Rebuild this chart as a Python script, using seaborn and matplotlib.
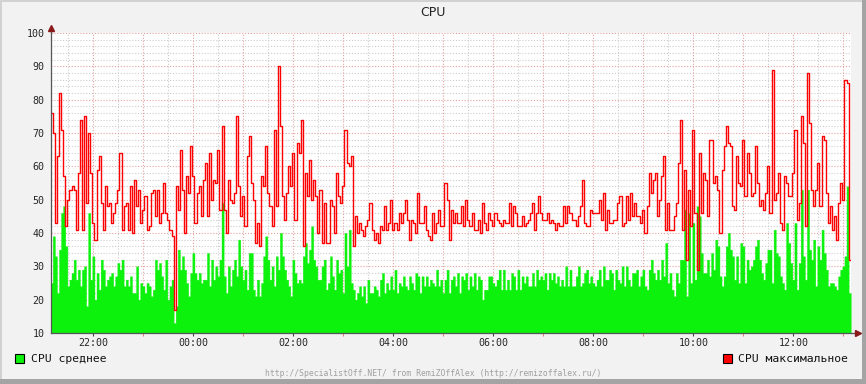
import numpy as np
import pandas as pd
import matplotlib
matplotlib.use("Agg")
import matplotlib.pyplot as plt
import seaborn as sns
from matplotlib.patches import Rectangle

# CPU maximum, % (one sample every 2.5 min)
cpu_max = [
    # 21:09 .. 23:50
    76, 70, 43, 63, 82, 71, 57, 42, 50, 53, 54, 53, 41, 58, 74, 41, 75, 49, 70, 58,
    43, 38, 59, 63, 49, 41, 54, 48, 49, 43, 46, 49, 53, 64, 41, 48, 49, 41, 54, 40,
    56, 48, 53, 43, 47, 51, 41, 42, 52, 53, 45, 53, 43, 46, 55, 46, 44, 41, 39, 17,
    54, 47, 65, 53,
    # 23:50 - 02:30
    40, 57, 52, 66, 57, 43, 52, 54, 45, 56, 61, 45, 64, 50, 56, 55, 65, 47, 72, 47,
    40, 56, 50, 49, 52, 75, 54, 45, 51, 42, 63, 69, 55, 50, 37, 43, 36, 57, 54, 66,
    52, 48, 42, 71, 48, 90, 72, 51, 44, 52, 60, 54, 64, 44, 67, 64, 74, 36, 58, 51,
    62, 50, 56, 51, 40,
    # 02:30 - 05:10
    53, 37, 49, 37, 37, 50, 48, 40, 58, 51, 49, 54, 71, 61, 60, 63, 36, 45, 40, 43,
    41, 39, 42, 44, 49, 41, 38, 40, 37, 42, 41, 48, 41, 43, 50, 41, 43, 41, 46, 43,
    46, 50, 44, 38, 44, 43, 40, 52, 43, 43, 48, 41, 39, 38, 46, 40, 43, 47, 42, 42,
    55, 50, 38, 47, 43,
    # 05:10 - 07:50
    46, 43, 43, 48, 42, 50, 44, 42, 46, 41, 41, 44, 40, 49, 43, 41, 46, 44, 42, 46,
    44, 43, 42, 44, 43, 43, 49, 42, 48, 46, 42, 42, 45, 42, 43, 44, 46, 49, 41, 46,
    51, 46, 44, 44, 46, 43, 44, 43, 41, 43, 42, 42, 48, 43, 48, 46, 44, 44, 42, 45,
    48, 56, 43, 42, 42,
    # 07:50 - 10:30
    47, 46, 46, 46, 50, 44, 52, 41, 47, 43, 43, 44, 44, 49, 51, 42, 43, 51, 44, 52,
    45, 49, 45, 45, 43, 47, 40, 48, 58, 52, 56, 58, 45, 50, 57, 63, 41, 49, 41, 41,
    45, 49, 61, 74, 41, 59, 32, 53, 42, 71, 46, 29, 64, 46, 58, 56, 45, 68, 68, 55,
    57, 53, 40, 59, 66,
    # 10:30 - 13:09
    72, 67, 66, 48, 47, 63, 55, 54, 68, 51, 64, 58, 51, 52, 66, 55, 48, 50, 47, 52,
    60, 46, 89, 50, 52, 58, 43, 41, 57, 55, 51, 51, 58, 71, 44, 49, 75, 67, 42, 88,
    73, 53, 48, 53, 61, 48, 69, 68, 52, 43, 48, 41, 45, 38, 49, 55,
    50, 86, 85, 32,
]

# CPU average, %
cpu_avg = [
    25, 39, 33, 22, 35, 46, 48, 36, 24, 26, 28, 32, 26, 29, 24, 29, 30, 18, 46, 26,
    33, 20, 28, 23, 32, 29, 24, 26, 27, 28, 24, 27, 31, 29, 32, 24, 26, 24, 27, 22,
    22, 30, 20, 25, 24, 22, 25, 24, 21, 23, 32, 29, 31, 27, 23, 32, 20, 24, 26, 13,
    18, 35, 29, 33,

    29, 25, 21, 28, 34, 28, 26, 28, 25, 26, 26, 34, 24, 32, 26, 30, 27, 32, 49, 27,
    22, 30, 24, 29, 32, 27, 38, 30, 26, 29, 23, 34, 34, 23, 21, 26, 21, 25, 33, 39,
    32, 26, 30, 24, 33, 29, 40, 33, 29, 26, 24, 21, 32, 28, 25, 26, 25, 33, 37, 31,
    35, 42, 32, 30, 26,

    26, 30, 32, 23, 25, 33, 27, 23, 32, 28, 29, 22, 40, 30, 41, 25, 23, 20, 22, 24,
    21, 24, 19, 26, 22, 22, 24, 23, 21, 26, 28, 22, 25, 23, 27, 23, 29, 22, 25, 24,
    27, 24, 23, 27, 25, 23, 28, 27, 22, 27, 24, 27, 24, 26, 25, 24, 29, 24, 26, 22,
    26, 29, 22, 26, 27,

    24, 28, 22, 27, 26, 28, 23, 27, 24, 28, 23, 27, 26, 20, 23, 23, 27, 27, 25, 24,
    26, 29, 23, 29, 23, 26, 23, 28, 27, 23, 29, 23, 27, 25, 27, 24, 24, 28, 24, 29,
    26, 27, 26, 28, 23, 28, 26, 28, 25, 27, 24, 26, 24, 30, 24, 29, 24, 24, 27, 30,
    24, 25, 28, 29, 25,

    27, 25, 24, 26, 29, 24, 30, 26, 26, 29, 28, 23, 29, 26, 25, 30, 24, 30, 26, 24,
    28, 28, 29, 24, 27, 29, 24, 23, 29, 32, 28, 26, 29, 26, 32, 27, 37, 25, 28, 23,
    21, 28, 25, 32, 32, 47, 21, 46, 25, 43, 26, 48, 45, 34, 28, 28, 32, 27, 34, 29,
    38, 36, 27, 24, 27,

    36, 40, 35, 33, 26, 33, 25, 37, 36, 25, 32, 29, 30, 32, 36, 38, 32, 28, 26, 31,
    35, 35, 25, 41, 34, 33, 27, 25, 23, 43, 37, 31, 26, 43, 23, 31, 53, 33, 26, 53,
    35, 32, 38, 24, 36, 32, 41, 34, 29, 24, 25, 25, 24, 23, 27, 29,
    30, 33, 54, 22,
]

# time window in hours (24+ = next day)
window_start = 21.148
window_end = 37.148
label_hours = [22, 24, 26, 28, 30, 32, 34, 36]
label_text = ["22:00", "00:00", "02:00", "04:00", "06:00", "08:00", "10:00", "12:00"]
y_ticks = [10, 20, 30, 40, 50, 60, 70, 80, 90, 100]

title = "CPU"
legend_avg = "CPU среднее"
legend_max = "CPU максимальное"
footer = "http://SpecialistOff.NET/ from RemiZOffAlex (http://remizoffalex.ru/)"

GREEN = "#0cf20c"
RED = "#ff0000"
MONO = "DejaVu Sans Mono"

# build step data (repeat last value so the last step is drawn)
n = len(cpu_avg)
step = (window_end - window_start) / n
t = window_start + step * np.arange(n + 1)
df = pd.DataFrame({"t": t,
                   "avg": cpu_avg + cpu_avg[-1:],
                   "max": cpu_max + cpu_max[-1:]})

sns.set_style("white")
plt.rcParams["font.family"] = ["DejaVu Sans"]

W, H = 866, 384
fig = plt.figure(figsize=(W / 100, H / 100), dpi=100, facecolor="#f2f2f2")

# munin-like frame: light top/left, darker bottom/right
fig.add_artist(Rectangle((0, 1 - 2 / H), 1, 2 / H, transform=fig.transFigure,
                         color="#d2d2d2", lw=0))
fig.add_artist(Rectangle((0, 0), 2 / W, 1, transform=fig.transFigure,
                         color="#d2d2d2", lw=0))
fig.add_artist(Rectangle((0, 0), 1, 5 / H, transform=fig.transFigure,
                         color="#a4a4a4", lw=0))
fig.add_artist(Rectangle((1 - 4 / W, 0), 4 / W, 1, transform=fig.transFigure,
                         color="#a4a4a4", lw=0))

ax = fig.add_axes([50.7 / W, 1 - 333 / H, 800 / W, 300 / H])
ax.set_facecolor("white")

ax.fill_between(df["t"], 0, df["avg"], step="post", color=GREEN, lw=0.3,
                edgecolor=GREEN, zorder=1)
sns.lineplot(data=df, x="t", y="max", drawstyle="steps-post", color=RED,
             lw=1.0, ax=ax, estimator=None, sort=False, zorder=3)

# dotted grid: minor grey, major reddish, kept behind the area
dots = (0, (1, 1.6))
for v in range(12, 100, 2):
    if v % 10:
        ax.axhline(v, color="#cccccc", lw=0.8, ls=dots, zorder=0.5)
for v in y_ticks[1:]:
    ax.axhline(v, color="#e7a0a0", lw=0.8, ls=dots, zorder=0.6)
for h in np.arange(21.5, window_end, 1.0):
    ax.axvline(h, color="#cccccc", lw=0.8, ls=dots, zorder=0.5)
for h in range(22, 38):
    ax.axvline(h, color="#e7a0a0", lw=0.8, ls=dots, zorder=0.6)

ax.set_xlim(window_start, window_end)
ax.set_ylim(10, 100)
ax.set_xlabel("")
ax.set_ylabel("")

ax.set_xticks(label_hours)
ax.set_xticklabels(label_text, fontfamily=MONO, fontsize=7.2)
ax.set_xticks(range(23, 38, 2), minor=True)
ax.tick_params(axis="x", which="major", length=2.4, width=0.8, color="#444444",
               pad=1.4, direction="out", bottom=True)
ax.tick_params(axis="x", which="minor", length=2.0, width=0.8, color="#e08080",
               direction="out", bottom=True)
ax.set_yticks(y_ticks)
ax.set_yticklabels([str(v) for v in y_ticks], fontfamily=MONO, fontsize=7.2)
ax.tick_params(axis="y", length=0, pad=4.6)

for side in ["top", "right"]:
    ax.spines[side].set_visible(False)
for side in ["left", "bottom"]:
    ax.spines[side].set_color("#555555")
    ax.spines[side].set_linewidth(0.9)
    ax.spines[side].set_zorder(4)

# axis arrows
ax.plot([window_start, window_start], [100, 101.6], color="#555555", lw=0.9,
        clip_on=False)
ax.plot([window_start], [101.6], marker="^", ms=4, color="#8b1a1a", clip_on=False)
ax.plot([window_end, window_end + 0.1], [10, 10], color="#555555", lw=0.9,
        clip_on=False)
ax.plot([window_end + 0.14], [10], marker=">", ms=4, color="#8b1a1a", clip_on=False)

fig.text(0.5, 1 - 13 / H, title, ha="center", va="center", fontsize=9,
         color="#222222")

# legend
fig.add_artist(Rectangle((15 / W, 1 - 363 / H), 8.5 / W, 9 / H,
                         transform=fig.transFigure, facecolor=GREEN,
                         edgecolor="black", lw=0.8))
fig.text(30.7 / W, 1 - 358.5 / H, legend_avg, ha="left", va="center",
         fontfamily=MONO, fontsize=8.2, color="#111111")
fig.add_artist(Rectangle((723.3 / W, 1 - 363 / H), 8.5 / W, 9 / H,
                         transform=fig.transFigure, facecolor=RED,
                         edgecolor="black", lw=0.8))
fig.text(738 / W, 1 - 358.5 / H, legend_max, ha="left", va="center",
         fontfamily=MONO, fontsize=8.2, color="#111111")

fig.text(0.5, 1 - 373 / H, footer, ha="center", va="center",
         fontfamily=MONO, fontsize=5.9, color="#a0a0a0")

fig.savefig("out.png", dpi=100, facecolor=fig.get_facecolor())
